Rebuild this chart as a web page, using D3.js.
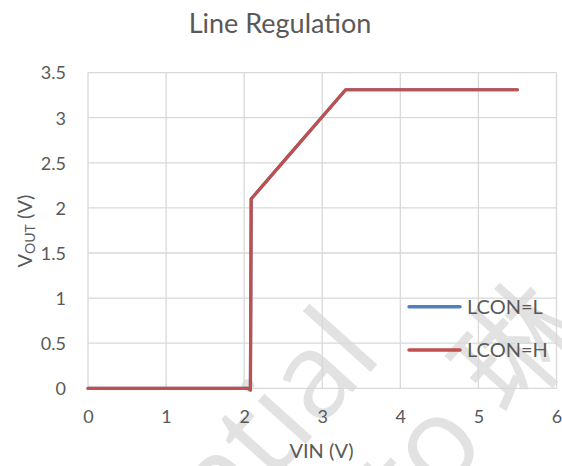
<!DOCTYPE html>
<html><head><meta charset="utf-8">
<script src="https://cdn.jsdelivr.net/npm/d3@7"></script>
<style>
html,body{margin:0;padding:0;background:#fff;}
svg{display:block;font-family:Lato,"Open Sans",sans-serif;}
</style></head>
<body><svg id="c" width="562" height="466"></svg>
<script>
const title = "Line Regulation";
const xTicks = [0,1,2,3,4,5,6];
const yTicks = [0,0.5,1,1.5,2,2.5,3,3.5];
const vin     = [0, 0.5, 1, 1.5, 2, 2.05, 2.08, 2.09, 2.1, 2.5, 3, 3.3, 3.5, 4, 4.5, 5, 5.5];
const vout_L  = [0, 0, 0, 0, 0, 0, -0.02, 2.1, 2.11, 2.51, 3.01, 3.31, 3.31, 3.31, 3.31, 3.31, 3.31];
const vout_H  = [0, 0, 0, 0, 0, 0, -0.02, 2.1, 2.11, 2.51, 3.01, 3.31, 3.31, 3.31, 3.31, 3.31, 3.31];
const seriesNames = ["LCON=L","LCON=H"];
const seriesColors = ["#4f81bd","#c0504d"];

const svg = d3.select("#c");
const x = d3.scaleLinear().domain([0,6]).range([88,556.5]);
const y = d3.scaleLinear().domain([0,3.5]).range([388.3,72.6]);

// watermark
const wm = svg.append("g").attr("fill","#e2e2e2").style("font-family","'Open Sans',sans-serif");
wm.append("text").attr("transform","translate(384,357) rotate(-48)")
  .attr("text-anchor","end").attr("font-size",120).text("Confidential");
const w2 = wm.append("text").attr("transform","translate(412,530) rotate(-48)")
  .attr("font-size",120);
w2.append("tspan").text("to ");
w2.append("tspan").style("font-family","'Noto Sans CJK SC',sans-serif").text("琳");

// grid
const g = svg.append("g");
g.selectAll(".gx").data(xTicks).join("line")
  .attr("x1",d=>x(d)).attr("x2",d=>x(d)).attr("y1",y(3.5)).attr("y2",y(0))
  .attr("stroke","#d9d9d9").attr("stroke-width",1.3);
g.selectAll(".gy").data(yTicks).join("line")
  .attr("x1",x(0)).attr("x2",x(6)).attr("y1",d=>y(d)).attr("y2",d=>y(d))
  .attr("stroke","#d9d9d9").attr("stroke-width",1.3);

// axes labels
const xa = d3.axisBottom(x).tickValues(xTicks).tickSize(0).tickPadding(0).tickFormat(d3.format("d"));
const ya = d3.axisLeft(y).tickValues(yTicks).tickSize(0).tickPadding(0).tickFormat(d=>String(d));
const gx = svg.append("g").call(xa);
gx.select(".domain").remove();
gx.selectAll("text").attr("y",422.7).attr("dy",0).attr("fill","#595959").attr("font-size",18).style("font-family","Lato");
const gy = svg.append("g").attr("transform","translate(66,0)").call(ya);
gy.select(".domain").remove();
gy.selectAll("text").attr("x",0).attr("dy","0.35em").attr("fill","#595959").attr("font-size",18).style("font-family","Lato");

// lines
const line = d3.line().x((d,i)=>x(vin[i])).y(d=>y(d));
[vout_L, vout_H].forEach((s,k)=>{
  svg.append("path").datum(s).attr("d",line).attr("fill","none")
    .attr("stroke",seriesColors[k]).attr("stroke-width",3.2)
    .attr("stroke-linejoin","round").attr("stroke-linecap","round");
});

// legend
const legY = [306.7, 350];
seriesNames.forEach((n,k)=>{
  svg.append("line").attr("x1",409).attr("x2",460).attr("y1",legY[k]).attr("y2",legY[k])
    .attr("stroke",seriesColors[k]).attr("stroke-width",3.5).attr("stroke-linecap","round");
  svg.append("text").attr("x",467).attr("y",legY[k]).attr("dy","0.36em")
    .attr("fill","#595959").attr("font-size",20).text(n);
});

// title
svg.append("text").attr("x",280).attr("y",32.5).attr("text-anchor","middle")
  .attr("fill","#595959").attr("font-size",27).text(title);

// x axis title
svg.append("text").attr("x",321.5).attr("y",458).attr("text-anchor","middle")
  .attr("fill","#595959").attr("font-size",20).text("VIN (V)");

// y axis title
const yt = svg.append("text").attr("transform","translate(32,231) rotate(-90)")
  .attr("text-anchor","middle").attr("fill","#595959").attr("font-size",20);
yt.append("tspan").text("V");
yt.append("tspan").attr("font-size",14).attr("dy",3).text("OUT");
yt.append("tspan").attr("dy",-3).text(" (V)");
</script></body></html>
